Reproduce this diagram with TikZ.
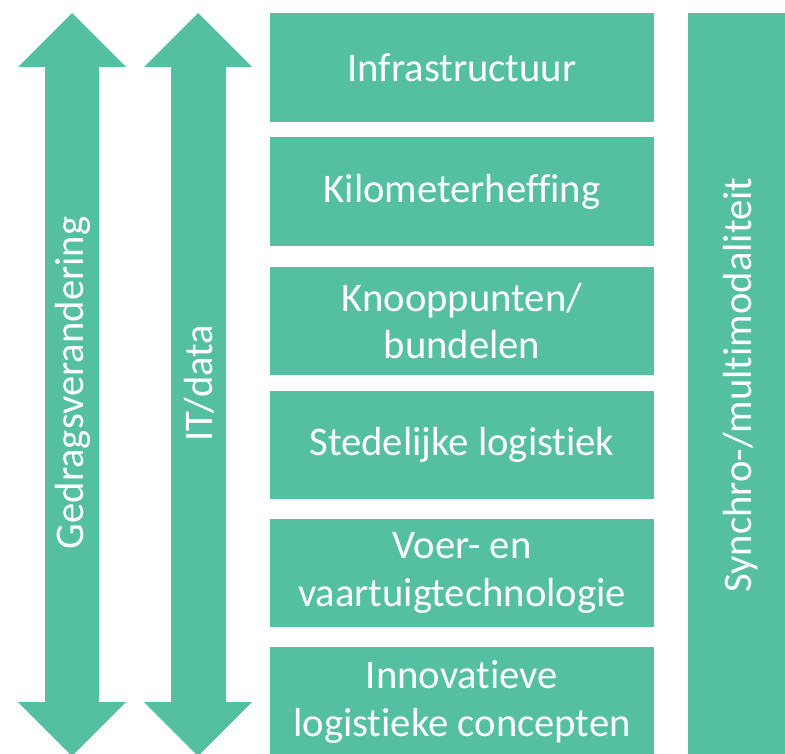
\documentclass[tikz,border=0pt]{standalone}
\usepackage{fontspec}
\setmainfont{Carlito}[Ligatures={NoCommon}]
\definecolor{teal}{HTML}{55BFA1}
\begin{document}
\begin{tikzpicture}[x=1bp,y=-1bp,
  blk/.style={fill=teal,draw=none,inner sep=0pt,minimum width=384bp,text=white,align=center,
    font=\fontsize{40.8}{48}\selectfont},
  vlab/.style={text=white,rotate=90,inner sep=0pt,font=\fontsize{40.8}{48}\selectfont}]
\useasboundingbox (0,0) rectangle (785,754);
\fill[white] (0,0) rectangle (785,754);
% double arrows
\fill[teal] (72,13) -- (126,67) -- (99,67) -- (99,702) -- (126,702) -- (72,756) -- (18,702) -- (45,702) -- (45,67) -- (18,67) -- cycle;
\fill[teal] (198,13) -- (252,67) -- (226,67) -- (226,702) -- (252,702) -- (198,756) -- (144,702) -- (171,702) -- (171,67) -- (144,67) -- cycle;
\node[vlab] (gedrag) at (73,383) {Gedragsverandering};
\node[vlab] (itdata) at (199,383) {IT/data};
% boxes
\node[blk,minimum height=109bp] (b1) at (462,67.5) {Infrastructuur};
\node[blk,minimum height=109bp] (b2) at (462,191.5) {Kilometerheffing};
\node[blk,minimum height=108bp] (b3) at (462,321) {Knooppunten/\\bundelen};
\node[blk,minimum height=108bp] (b4) at (462,445) {Stedelijke logistiek};
\node[blk,minimum height=108bp] (b5) at (462,573) {Voer- en\\vaartuigtechnologie};
\node[blk,minimum height=110bp] (b6) at (462,702) {Innovatieve\\logistieke concepten};
% right bar
\fill[teal] (688,13) rectangle (790,760);
\node[vlab] (synchro) at (741,385) {Synchro-/multimodaliteit};
\end{tikzpicture}
\end{document}
